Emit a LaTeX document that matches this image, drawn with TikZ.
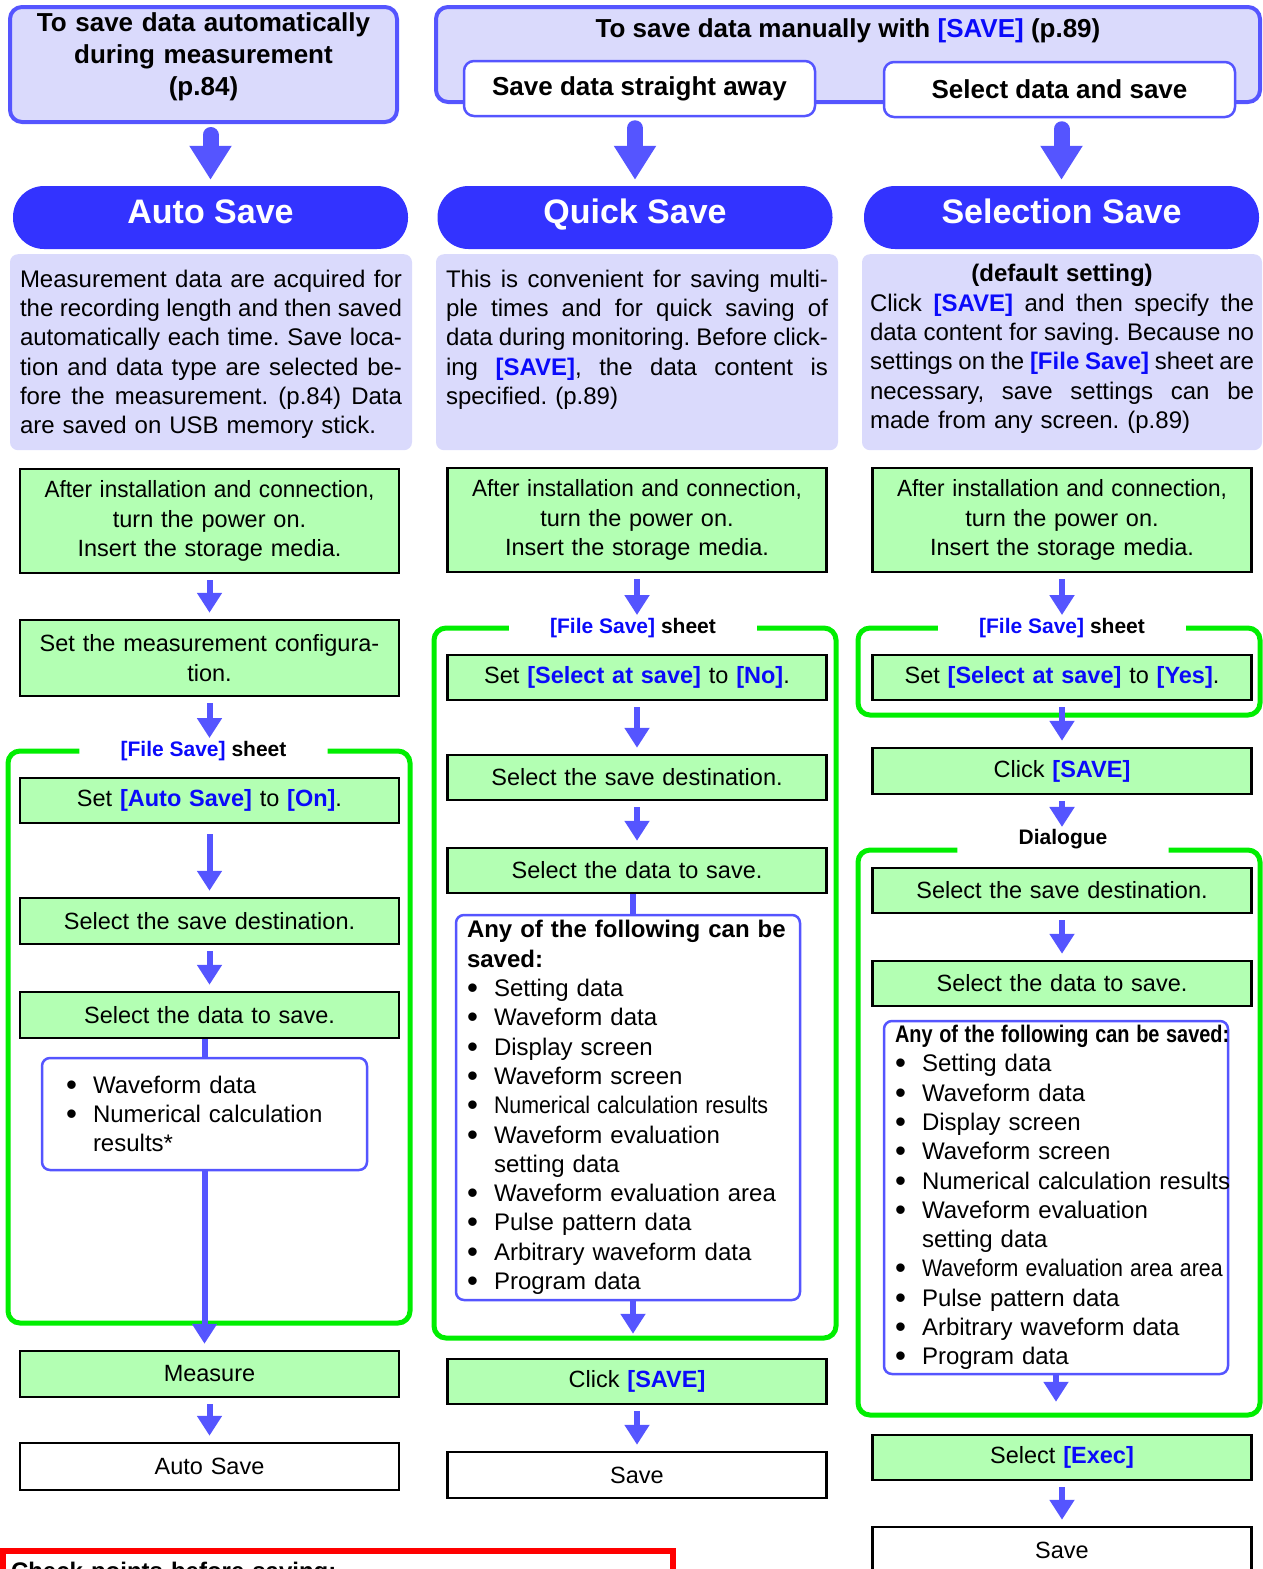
\documentclass[tikz,border=0pt]{standalone}
\usepackage{fontspec}
\setmainfont{Liberation Sans}
\usepackage{graphicx}
\usepackage{xcolor}
\usetikzlibrary{arrows.meta,positioning}

\definecolor{hdrfill}{RGB}{218,218,252}
\definecolor{hdrline}{RGB}{85,85,255}
\definecolor{pillblue}{RGB}{51,51,255}
\definecolor{stepgreen}{RGB}{179,255,179}
\definecolor{framegreen}{RGB}{0,238,0}
\definecolor{keyblue}{RGB}{10,10,250}
\definecolor{arrowblue}{RGB}{85,85,255}

\newcommand\txtfont{\fontsize{24}{29.3}\selectfont\frenchspacing}
\newcommand\stepfont{\fontsize{23.5}{29.3}\selectfont\frenchspacing}
\newcommand\bkey[1]{\textcolor{keyblue}{\textbf{#1}}}
\newcommand\itm[1]{\mbox{\makebox[27pt][l]{\raisebox{-2pt}{\scalebox{1.3}{•}}}#1}}
\newcommand\jline[2][382pt]{\makebox[#1][s]{\spaceskip=0pt\xspaceskip=0pt #2}}

\begin{document}
\begin{tikzpicture}[x=1pt,y=-1pt,
  hdr/.style={draw=hdrline,line width=4pt,fill=hdrfill,rounded corners=12pt,inner xsep=5pt,inner ysep=0pt,font=\fontsize{26}{32}\selectfont\bfseries},
  choice/.style={draw=hdrline,line width=2.5pt,fill=white,rounded corners=10pt,minimum width=351pt,minimum height=55pt,font=\fontsize{26}{32}\selectfont\bfseries},
  pill/.style={fill=pillblue,rounded corners=31pt,minimum width=395pt,minimum height=63pt,text height=24.4pt,text depth=13pt,text=white,font=\fontsize{34}{40}\selectfont\bfseries},
  desc/.style={fill=hdrfill,rounded corners=8pt,anchor=north,inner xsep=10pt,inner ysep=0pt,text width=382pt,align=left,text height=33pt,text depth=163pt,font=\txtfont},
  stepbox/.style={draw=black,line width=2.5pt,fill=stepgreen,minimum width=379pt,text width=369pt,inner xsep=5pt,align=center,font=\stepfont},
  endbox/.style={stepbox,fill=white},
  listbox/.style={draw=hdrline,line width=2.5pt,fill=white,rounded corners=8pt,align=left,font=\txtfont},
  sheetlbl/.style={font=\fontsize{21}{25}\selectfont\bfseries,inner ysep=1pt,inner xsep=41pt},
  grp/.style={draw=framegreen,line width=5pt,rounded corners=12pt},
  bigarrow/.style={draw=arrowblue,line width=16pt,line cap=round,-{Triangle[width=40pt,length=34pt]},shorten <=11pt,shorten >=6pt},
  flow/.style={draw=arrowblue,line width=6pt,-{Triangle[width=24pt,length=20pt]},shorten <=6pt,shorten >=6pt},
  link/.style={draw=arrowblue,line width=6pt}]
\useasboundingbox (0,0) rectangle (1263,1569);
\clip (0,0) rectangle (1263,1569);

\node[hdr,anchor=north,text width=377pt,align=center,text height=24pt,text depth=91pt] (hdrA) at (203.5,5) {To save data automatically\\during measurement\\(p.84)};
\node[hdr,anchor=north,minimum width=824pt,text height=30pt,text depth=65pt] (hdrB) at (848,5) {To save data manually with \textcolor{keyblue}{[SAVE]} (p.89)};
\node[choice] (straight) at (639.5,88.5) {Save data straight away};
\node[choice] (select) at (1059.5,89.5) {Select data and save};

\node[pill] (titleA) at (210.5,217.5) {Auto Save};
\node[pill] (titleB) at (635,217.5) {Quick Save};
\node[pill] (titleC) at (1061.5,217.5) {Selection Save};
\draw[bigarrow] (titleA.north |- hdrA.south) -- (titleA.north);
\draw[bigarrow] (titleB.north |- straight.south) -- (titleB.north);
\draw[bigarrow] (titleC.north |- select.south) -- (titleC.north);

\node[desc] (descA) at (211,254) {\jline{Measurement data are acquired for}\\\jline{the recording length and then saved}\\\jline{automatically each time. Save loca-}\\\jline{tion and data type are selected be-}\\\jline{fore the measurement. (p.84) Data}\\are saved on USB memory stick.};
\node[desc] (descB) at (637,254) {\jline{This is convenient for saving multi-}\\\jline{ple times and for quick saving of}\\\jline{data during monitoring. Before click-}\\\jline{ing \bkey{[SAVE]}, the data content is}\\specified. (p.89)};
\node[desc,text width=384pt,inner xsep=8pt,text height=27.6pt,text depth=168.4pt] (descC) at (1062,254) {\makebox[384pt]{\textbf{(default setting)}}\\\jline[384pt]{Click \bkey{[SAVE]} and then specify the}\\\jline[384pt]{data content for saving. Because no}\\\jline[384pt]{settings on the \bkey{[File Save]} sheet are}\\\jline[384pt]{necessary, save settings can be}\\made from any screen. (p.89)};

\node[stepbox,minimum height=104pt] (powerA) at (209.5,521) {\scalebox{0.96}[1]{After installation and connection,}\\turn the power on.\\Insert the storage media.};
\node[stepbox,minimum height=76pt] (confA) at (209.5,658) {Set the measurement configura-\\tion.};
\node[sheetlbl] (lblA) at (203.5,751) {\textcolor{keyblue}{[File Save]} sheet};
\node[stepbox,minimum height=45pt] (autoA) at (209.5,800.5) {Set \bkey{[Auto Save]} to \bkey{[On]}.};
\node[stepbox,minimum height=46pt] (destA) at (209.5,921) {Select the save destination.};
\node[stepbox,minimum height=46pt] (dataA) at (209.5,1015) {Select the data to save.};
\node[listbox,text width=277pt,inner xsep=24pt,minimum height=112pt] (listA) at (204.5,1114) {\itm{Waveform data}\\\itm{Numerical calculation}\\\hspace*{27pt}results*};
\node[stepbox,minimum height=46pt] (measA) at (209.5,1374) {Measure};
\node[endbox,minimum height=47pt] (saveA) at (209.5,1466.5) {Auto Save};
\draw[grp] (lblA.west) -| (8,1323) -| (lblA.east -| 410,0) -- (lblA.east);
\draw[flow] (powerA) -- (confA);
\draw[flow,shorten >=2pt] (confA.south) -- (confA.south |- lblA.north);
\draw[flow,shorten <=10pt] (autoA) -- (destA);
\draw[flow] (destA) -- (dataA);
\draw[link] (listA.north |- dataA.south) -- (listA.north);
\draw[flow,shorten <=0pt] (listA.south) -- (listA.south |- measA.north);
\draw[flow] (measA) -- (saveA);

\node[stepbox,minimum height=104pt] (powerB) at (637,520) {\scalebox{0.96}[1]{After installation and connection,}\\turn the power on.\\Insert the storage media.};
\node[sheetlbl] (lblB) at (633,628) {\textcolor{keyblue}{[File Save]} sheet};
\node[stepbox,minimum height=45pt] (setB) at (637,677.5) {Set \bkey{[Select at save]} to \bkey{[No]}.};
\node[stepbox,minimum height=45pt] (destB) at (637,777.5) {Select the save destination.};
\node[stepbox,minimum height=45pt] (dataB) at (637,870.5) {Select the data to save.};
\node[listbox,text width=322pt,inner xsep=11pt,minimum height=385pt] (listB) at (628,1107.5) {\textbf{Any of the following can be}\\\textbf{saved:}\\\itm{Setting data}\\\itm{Waveform data}\\\itm{Display screen}\\\itm{Waveform screen}\\\itm{\scalebox{0.89}[1]{Numerical calculation results}}\\\itm{Waveform evaluation}\\\hspace*{27pt}setting data\\\itm{Waveform evaluation area}\\\itm{Pulse pattern data}\\\itm{Arbitrary waveform data}\\\itm{Program data}};
\node[stepbox,minimum height=45pt] (clickB) at (637,1381.5) {Click \bkey{[SAVE]}};
\node[endbox,minimum height=46pt] (saveB) at (637,1475) {Save};
\draw[grp] (lblB.west) -| (434,1338) -| (lblB.east -| 836,0) -- (lblB.east);
\draw[flow,shorten >=2pt] (powerB.south) -- (powerB.south |- lblB.north);
\draw[flow] (setB) -- (destB);
\draw[flow] (destB) -- (dataB);
\draw[link] (dataB.south -| lblB) -- (listB.north -| lblB);
\draw[flow,shorten <=0pt,shorten >=24pt] (listB.south -| lblB) -- (clickB.north -| lblB);
\draw[flow] (clickB) -- (saveB);

\node[stepbox,minimum height=104pt] (powerC) at (1062,520) {\scalebox{0.96}[1]{After installation and connection,}\\turn the power on.\\Insert the storage media.};
\node[sheetlbl] (lblC) at (1062,628) {\textcolor{keyblue}{[File Save]} sheet};
\node[stepbox,minimum height=45pt] (setC) at (1062,677.5) {Set \bkey{[Select at save]} to \bkey{[Yes]}.};
\node[stepbox,minimum height=46pt] (clickC) at (1062,771) {Click \bkey{[SAVE]}};
\node[sheetlbl,inner xsep=61pt] (dlgC) at (1063,839) {Dialogue};
\node[stepbox,minimum height=45pt] (destC) at (1062,890.5) {Select the save destination.};
\node[stepbox,minimum height=45pt] (dataC) at (1062,983.5) {Select the data to save.};
\node[listbox,text width=322pt,inner xsep=11pt,minimum height=353pt] (listC) at (1056,1197.5) {\mbox{\scalebox{0.83}[1]{\textbf{Any of the following can be saved:}}}\\\itm{Setting data}\\\itm{Waveform data}\\\itm{Display screen}\\\itm{Waveform screen}\\\itm{Numerical calculation results}\\\itm{Waveform evaluation}\\\hspace*{27pt}setting data\\\itm{\scalebox{0.89}[1]{Waveform evaluation area area}}\\\itm{Pulse pattern data}\\\itm{Arbitrary waveform data}\\\itm{Program data}};
\node[stepbox,minimum height=45pt] (execC) at (1062,1457.5) {Select \bkey{[Exec]}};
\node[endbox,minimum height=46pt] (saveC) at (1062,1550) {Save};
\draw[grp] (lblC.west) -| (858,715) -| (lblC.east -| 1260,0) -- (lblC.east);
\draw[grp] (dlgC.south west) -| (858,1415) -| (dlgC.south east -| 1260,0) -- (dlgC.south east);
\draw[flow,shorten >=2pt] (powerC) -- (lblC);
\draw[flow] (setC) -- (clickC);
\draw[flow,shorten >=1pt] (clickC.south) -- (clickC.south |- dlgC.north);
\draw[flow] (destC) -- (dataC);
\draw[flow,shorten <=0pt,shorten >=32pt] (listC.south) -- (listC.south |- execC.north);
\draw[flow] (execC) -- (saveC);

\node[draw=red,line width=6pt,anchor=north west,minimum width=670pt,text width=654pt,inner xsep=8pt,inner ysep=0pt,align=left,text height=28pt,text depth=30pt,font=\fontsize{24}{29}\selectfont\bfseries] (check) at (0,1548) {Check points before saving:};
\end{tikzpicture}
\end{document}
